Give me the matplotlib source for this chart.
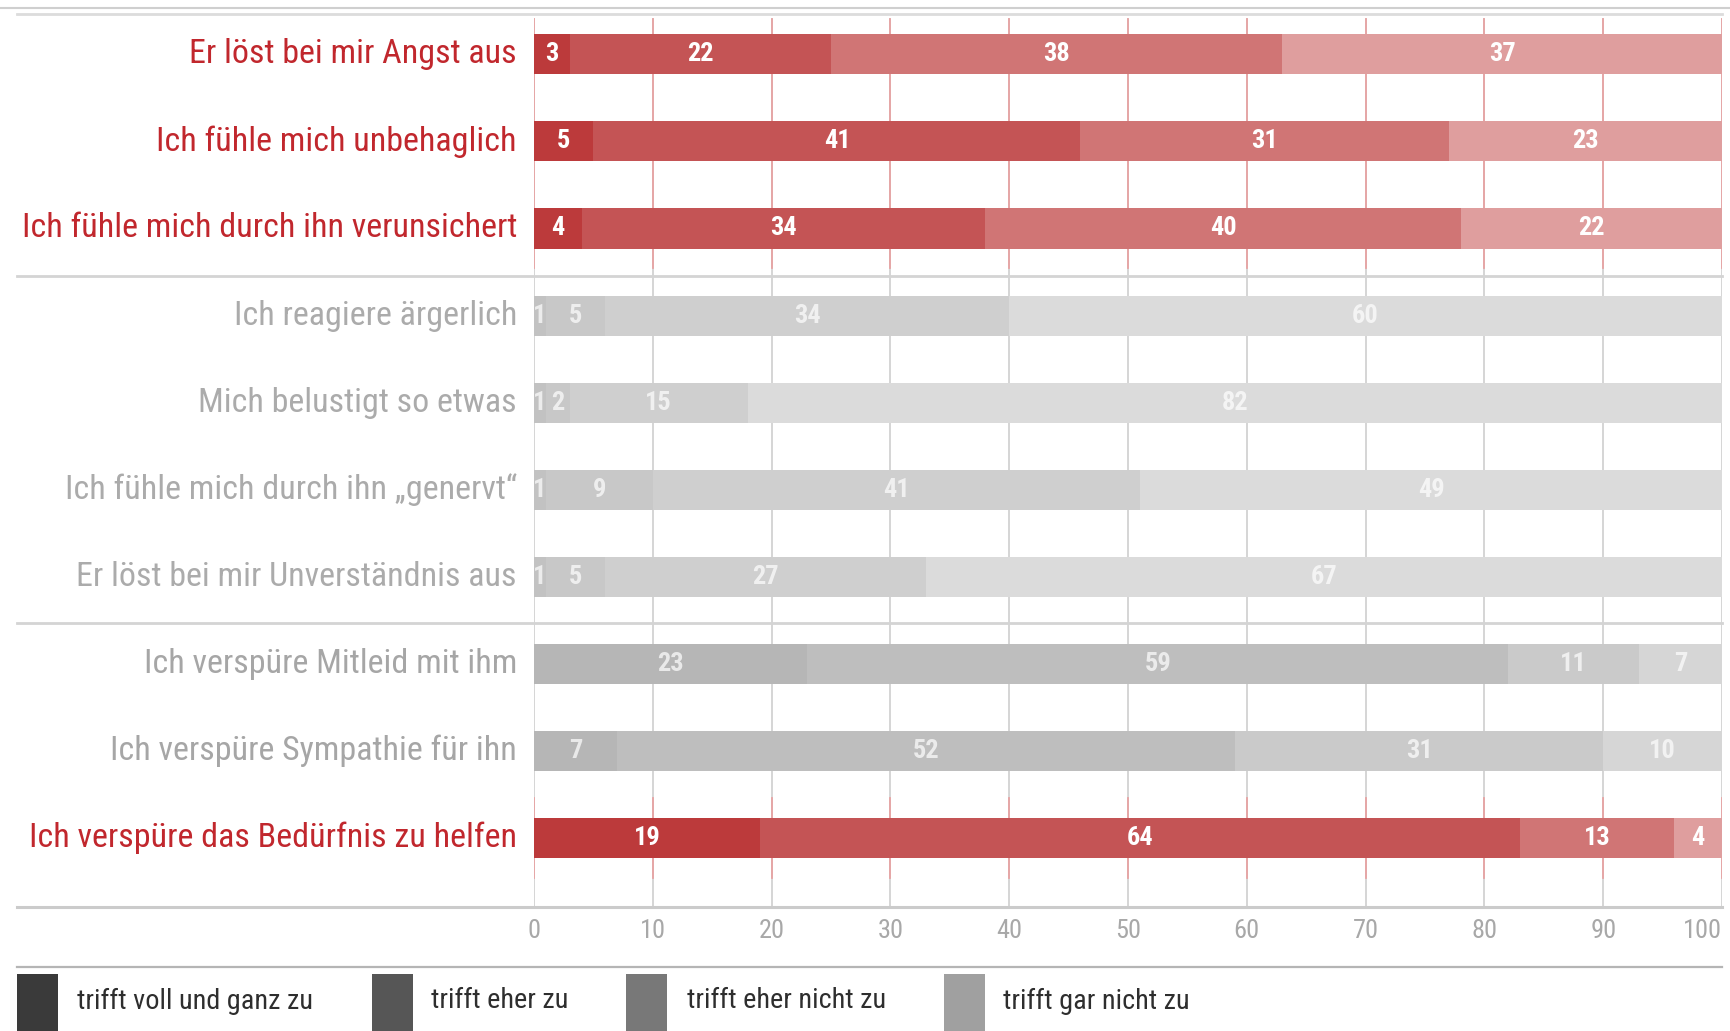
import matplotlib
matplotlib.use("Agg")
import matplotlib.pyplot as plt
from matplotlib import font_manager as fm
from matplotlib.patches import Rectangle
from matplotlib.lines import Line2D
import matplotlib.transforms as mtransforms
import numpy as np

# ---------------- data ----------------
categories = [
    "Er löst bei mir Angst aus",
    "Ich fühle mich unbehaglich",
    "Ich fühle mich durch ihn verunsichert",
    "Ich reagiere ärgerlich",
    "Mich belustigt so etwas",
    "Ich fühle mich durch ihn \u201egenervt\u201c",
    "Er löst bei mir Unverständnis aus",
    "Ich verspüre Mitleid mit ihm",
    "Ich verspüre Sympathie für ihn",
    "Ich verspüre das Bedürfnis zu helfen",
]
series_names = ["trifft voll und ganz zu", "trifft eher zu",
                "trifft eher nicht zu", "trifft gar nicht zu"]
voll = [3, 5, 4, 1, 1, 1, 1, 23, 7, 19]
eher = [22, 41, 34, 5, 2, 9, 5, 59, 52, 64]
eher_nicht = [38, 31, 40, 34, 15, 41, 27, 11, 31, 13]
gar_nicht = [37, 23, 22, 60, 82, 49, 67, 7, 10, 4]
row_style = ["red", "red", "red", "light", "light", "light", "light",
             "mid", "mid", "red"]
xticks = [0, 10, 20, 30, 40, 50, 60, 70, 80, 90, 100]

# ---------------- style ----------------
palettes = {
    "red": ["#BC3A3B", "#C45455", "#D07575", "#DF9E9E"],
    "light": ["#C2C2C2", "#C8C8C8", "#CFCFCF", "#DBDBDB"],
    "mid": ["#B6B6B6", "#BEBEBE", "#CACACA", "#D6D6D6"],
}
label_colors = {"red": "#C1272D", "light": "#ABABAB", "mid": "#A6A6A6"}
legend_colors = ["#3A3A3A", "#565656", "#787878", "#A0A0A0"]

avail = {f.name for f in fm.fontManager.ttflist}
font = "DejaVu Sans"
for cand in ["Liberation Sans Narrow", "Roboto Condensed", "Open Sans Condensed",
             "Noto Sans Condensed", "Arial Narrow", "Roboto"]:
    if cand in avail:
        font = cand
        break
plt.rcParams["font.family"] = [font, "DejaVu Sans"]

W, H = 1731, 1031
fig = plt.figure(figsize=(W / 100, H / 100), dpi=100)

def fx(px):
    return px / W

def fy(py):
    return 1 - py / H

ax = fig.add_axes([fx(534), fy(907), fx(1722) - fx(534), fy(9) - fy(907)])
ax.set_xlim(0, 100)
ax.set_ylim(9.79, -0.52)
for s in ax.spines.values():
    s.set_visible(False)
ax.set_yticks([])

n = len(categories)
y = np.arange(n)
data = np.array([voll, eher, eher_nicht, gar_nicht], dtype=float)

# gridlines
red_spans = [(-0.40, 2.45), (8.54, 9.46)]
for xv in xticks:
    ax.plot([xv, xv], [-0.40, 9.79], color="#D2D2D2", lw=1.3, zorder=1)
    for a, b in red_spans:
        ax.plot([xv, xv], [a, b], color="#E7A3A3", lw=1.3, zorder=1.1)

# bars
bar_h = 0.46
left = np.zeros(n)
for k in range(4):
    cols = [palettes[row_style[i]][k] for i in range(n)]
    ax.barh(y, data[k], left=left, height=bar_h, color=cols, zorder=2, lw=0)
    left += data[k]

# value labels
left = np.zeros(n)
for k in range(4):
    for i in range(n):
        v = data[k][i]
        if v > 0:
            if row_style[i] == "red":
                ax.text(left[i] + v / 2, y[i], f"{int(v)}", ha="center", va="center",
                        color="white", fontsize=19, fontweight="bold", zorder=3)
            else:
                ax.text(left[i] + v / 2, y[i], f"{int(v)}", ha="center", va="center",
                        color="white", alpha=0.7, fontsize=19, fontweight="bold", zorder=3)
    left += data[k]

# category labels
lab_tr = mtransforms.blended_transform_factory(fig.transFigure, ax.transData)
labels = []
for i, c in enumerate(categories):
    t = ax.text(fx(517), y[i], c, transform=lab_tr, ha="right", va="center",
                color=label_colors[row_style[i]], fontsize=24)
    labels.append(t)

fig.canvas.draw()
r = fig.canvas.get_renderer()
wlong = labels[2].get_window_extent(r).width
scale = 495 / wlong
for t in labels:
    t.set_fontsize(24 * scale)

# separator lines
for yy in [2.54, 6.53]:
    ax.plot([fx(17), fx(1722)], [yy, yy], transform=lab_tr, color="#D4D4D4",
            lw=2, clip_on=False, zorder=1)

fig.add_artist(Line2D([fx(0), fx(1731)], [fy(8), fy(8)], color="#CFCFCF", lw=1.5))
fig.add_artist(Line2D([fx(17), fx(1722)], [fy(14), fy(14)], color="#DCDCDC", lw=2))
fig.add_artist(Line2D([fx(17), fx(1722)], [fy(907), fy(907)], color="#CBCBCB", lw=2.2))
fig.add_artist(Line2D([fx(17), fx(1722)], [fy(967), fy(967)], color="#B5B5B5", lw=1.6))

# x tick labels
ax.set_xticks(xticks)
ax.set_xticklabels([str(v) for v in xticks], color="#A8A8A8", fontsize=19)
ax.tick_params(axis="x", length=0, pad=9)
ax.get_xticklabels()[-1].set_horizontalalignment("right")

# legend
sq_x = [17, 372, 626, 944]
tx_x = [77, 431, 687, 1003]
leg_texts = []
for k in range(4):
    fig.add_artist(Rectangle((fx(sq_x[k]), fy(1031)), fx(41), fy(974) - fy(1031),
                             transform=fig.transFigure, color=legend_colors[k], lw=0))
    t = fig.text(fx(tx_x[k]), fy(1001), series_names[k], ha="left", va="center",
                 color="#2E2E2E", fontsize=20)
    leg_texts.append(t)
fig.canvas.draw()
wl = leg_texts[0].get_window_extent(fig.canvas.get_renderer()).width
for t in leg_texts:
    t.set_fontsize(20 * 235 / wl)

fig.savefig("out.png", dpi=100)
